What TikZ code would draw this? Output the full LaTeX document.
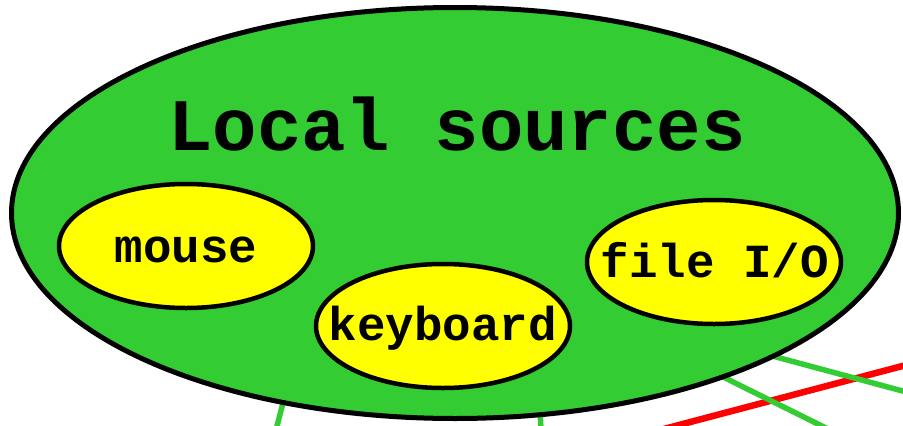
\documentclass[tikz,border=0pt]{standalone}
\usepackage{fontspec}
\setmonofont{Liberation Mono}
\usetikzlibrary{shapes.geometric}
\definecolor{srcgreen}{RGB}{51,204,51}
\definecolor{srcyellow}{RGB}{255,255,0}
\definecolor{linkred}{RGB}{255,0,0}
\tikzset{
  groupshape/.style={ellipse, draw=black, line width=5pt, fill=srcgreen, inner sep=0pt},
  devshape/.style={ellipse, draw=black, line width=4.5pt, fill=srcyellow, inner sep=0pt,
    minimum width=254pt, minimum height=124pt},
  titletext/.style={font=\ttfamily\bfseries\fontsize{74}{74}\selectfont, anchor=base, inner sep=0pt},
  devtext/.style={font=\ttfamily\bfseries\fontsize{47.5}{47.5}\selectfont, anchor=base, inner sep=0pt},
  greenlink/.style={draw=srcgreen, line width=5.5pt},
  redlink/.style={draw=linkred, line width=6.5pt},
}
\begin{document}
\begin{tikzpicture}[x=1pt, y=-1pt]
  \useasboundingbox (0,0) rectangle (903,426);
  \clip (0,0) rectangle (903,426);

  % outgoing connections, drawn first so the group sits on top
  \coordinate (g1a) at (285,395);  \coordinate (g1b) at (276,430);
  \coordinate (g2a) at (540,410);  \coordinate (g2b) at (541,430);
  \coordinate (g3a) at (705,368);  \coordinate (g3b) at (830,430);
  \coordinate (g4a) at (765,354);  \coordinate (g4b) at (910,393);
  \coordinate (r1a) at (660,430);  \coordinate (r1b) at (910,364);

  \draw[redlink] (r1a) -- (r1b);
  \draw[greenlink] (g1a) -- (g1b);
  \draw[greenlink] (g2a) -- (g2b);
  \draw[greenlink] (g3a) -- (g3b);
  \draw[greenlink] (g4a) -- (g4b);

  % the group of local sources
  \node[groupshape, minimum width=887pt, minimum height=411pt] (local) at (455,213) {};
  \node[titletext] (localtitle) at (457,150) {Local sources};

  % devices inside the group
  \node[devshape] (mouse) at (186,246) {};
  \node[devtext] (mousetext) at (186,262) {mouse};

  \node[devshape] (keyboard) at (443,326) {};
  \node[devtext] (keyboardtext) at (443,340) {keyboard};

  \node[devshape] (fileio) at (714,262) {};
  \node[devtext] (fileiotext) at (715,277) {file I/O};
\end{tikzpicture}
\end{document}
